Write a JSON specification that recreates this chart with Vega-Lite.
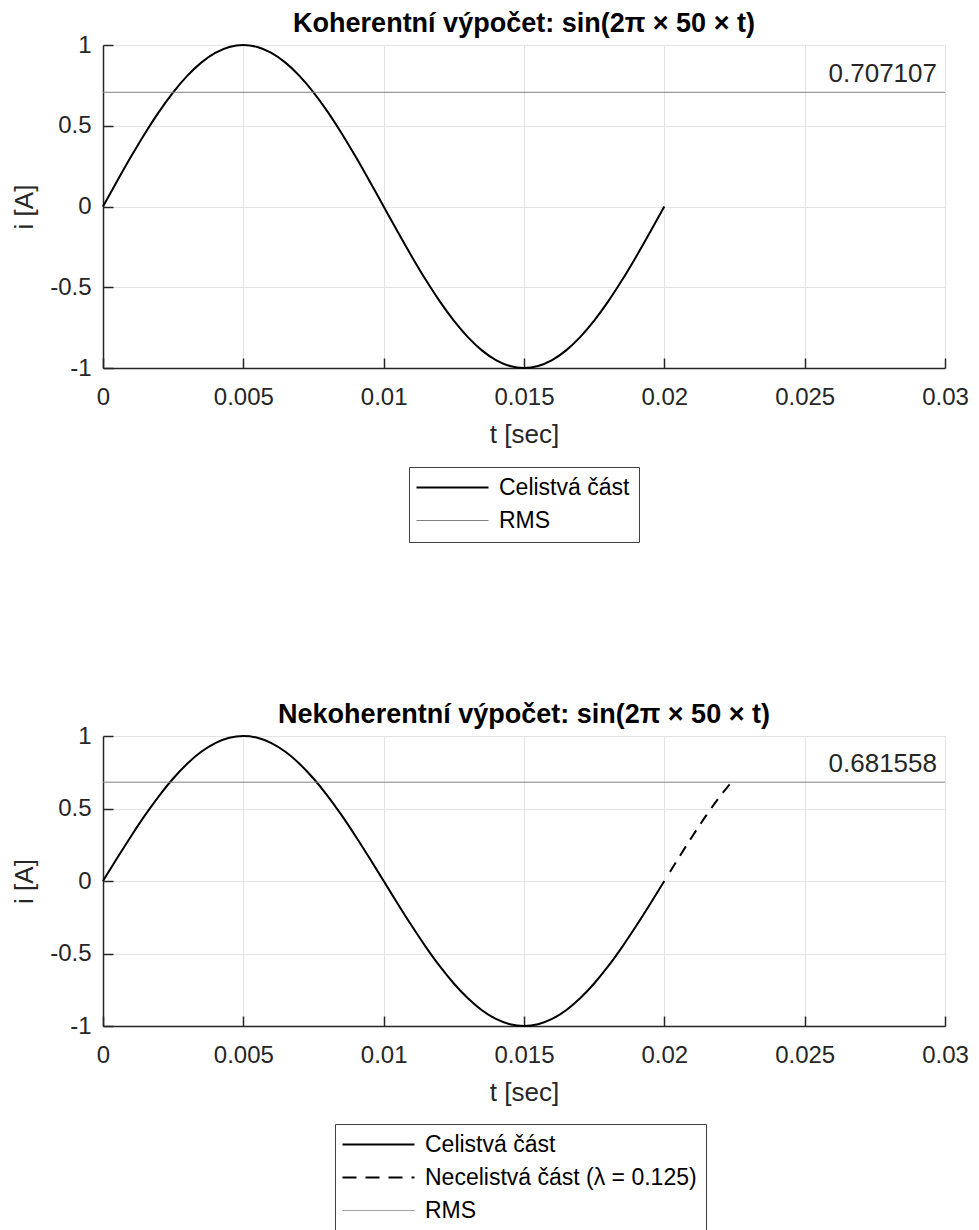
{
  "$schema": "https://vega.github.io/schema/vega-lite/v6.json",
  "background": "white",
  "padding": {"left": 11, "top": 10, "right": 20, "bottom": 2},
  "config": {
    "font": "Liberation Sans",
    "view": {"stroke": null},
    "axis": {
      "domainColor": "#262626", "domainWidth": 1.5,
      "tickColor": "#262626", "tickWidth": 1.5, "tickSize": -10,
      "gridColor": "#e3e3e3", "gridWidth": 1,
      "labelFont": "Liberation Sans", "labelFontSize": 24, "labelColor": "#262626",
      "titleFont": "Liberation Sans", "titleFontSize": 26, "titleFontWeight": "normal", "titleColor": "#262626",
      "labelFlush": false, "labelOverlap": false, "labelBound": false,
      "labelExpr": "replace(datum.label, '−', '-')"
    },
    "axisX": {"labelPadding": 27, "titlePadding": 12},
    "axisY": {"labelPadding": 22, "titlePadding": 12},
    "title": {"font": "Liberation Sans", "fontSize": 27, "fontWeight": "bold", "color": "#000000", "offset": -5, "baseline": "alphabetic", "anchor": "middle", "frame": "group"},
    "legend": {
      "orient": "none", "title": null, "direction": "vertical",
      "strokeColor": "#404040", "fillColor": "white", "padding": 9,
      "labelFont": "Liberation Sans", "labelFontSize": 23, "labelColor": "#000000", "labelLimit": 500,
      "symbolType": "M-3,0H3", "symbolSize": 576, "symbolOffset": 23, "labelOffset": 35, "rowPadding": 9,
      "symbolStrokeWidth": 2
    }
  },
  "datasets": {
    "wave": [
      {"t": 0, "i": 0, "s": "Celistvá část"},
      {"t": 0.0005, "i": 0.1564, "s": "Celistvá část"},
      {"t": 0.001, "i": 0.309, "s": "Celistvá část"},
      {"t": 0.0015, "i": 0.454, "s": "Celistvá část"},
      {"t": 0.002, "i": 0.5878, "s": "Celistvá část"},
      {"t": 0.0025, "i": 0.7071, "s": "Celistvá část"},
      {"t": 0.003, "i": 0.809, "s": "Celistvá část"},
      {"t": 0.0035, "i": 0.891, "s": "Celistvá část"},
      {"t": 0.004, "i": 0.9511, "s": "Celistvá část"},
      {"t": 0.0045, "i": 0.9877, "s": "Celistvá část"},
      {"t": 0.005, "i": 1, "s": "Celistvá část"},
      {"t": 0.0055, "i": 0.9877, "s": "Celistvá část"},
      {"t": 0.006, "i": 0.9511, "s": "Celistvá část"},
      {"t": 0.0065, "i": 0.891, "s": "Celistvá část"},
      {"t": 0.007, "i": 0.809, "s": "Celistvá část"},
      {"t": 0.0075, "i": 0.7071, "s": "Celistvá část"},
      {"t": 0.008, "i": 0.5878, "s": "Celistvá část"},
      {"t": 0.0085, "i": 0.454, "s": "Celistvá část"},
      {"t": 0.009, "i": 0.309, "s": "Celistvá část"},
      {"t": 0.0095, "i": 0.1564, "s": "Celistvá část"},
      {"t": 0.01, "i": 0, "s": "Celistvá část"},
      {"t": 0.0105, "i": -0.1564, "s": "Celistvá část"},
      {"t": 0.011, "i": -0.309, "s": "Celistvá část"},
      {"t": 0.0115, "i": -0.454, "s": "Celistvá část"},
      {"t": 0.012, "i": -0.5878, "s": "Celistvá část"},
      {"t": 0.0125, "i": -0.7071, "s": "Celistvá část"},
      {"t": 0.013, "i": -0.809, "s": "Celistvá část"},
      {"t": 0.0135, "i": -0.891, "s": "Celistvá část"},
      {"t": 0.014, "i": -0.9511, "s": "Celistvá část"},
      {"t": 0.0145, "i": -0.9877, "s": "Celistvá část"},
      {"t": 0.015, "i": -1, "s": "Celistvá část"},
      {"t": 0.0155, "i": -0.9877, "s": "Celistvá část"},
      {"t": 0.016, "i": -0.9511, "s": "Celistvá část"},
      {"t": 0.0165, "i": -0.891, "s": "Celistvá část"},
      {"t": 0.017, "i": -0.809, "s": "Celistvá část"},
      {"t": 0.0175, "i": -0.7071, "s": "Celistvá část"},
      {"t": 0.018, "i": -0.5878, "s": "Celistvá část"},
      {"t": 0.0185, "i": -0.454, "s": "Celistvá část"},
      {"t": 0.019, "i": -0.309, "s": "Celistvá část"},
      {"t": 0.0195, "i": -0.1564, "s": "Celistvá část"},
      {"t": 0.02, "i": 0, "s": "Celistvá část"},
      {"t": 0.0202, "i": 0.0628, "s": "Necelistvá část (λ = 0.125)"},
      {"t": 0.0205, "i": 0.1564, "s": "Necelistvá část (λ = 0.125)"},
      {"t": 0.021, "i": 0.309, "s": "Necelistvá část (λ = 0.125)"},
      {"t": 0.0215, "i": 0.454, "s": "Necelistvá část (λ = 0.125)"},
      {"t": 0.022, "i": 0.5878, "s": "Necelistvá část (λ = 0.125)"},
      {"t": 0.0225, "i": 0.7071, "s": "Necelistvá část (λ = 0.125)"}
    ],
    "rmsTop": [{"rms": 0.707107, "s": "RMS", "label": "0.707107"}],
    "rmsBottom": [{"rms": 0.681558, "s": "RMS", "label": "0.681558"}]
  },
  "spacing": 158,
  "resolve": {
    "scale": {"x": "independent", "y": "independent", "color": "independent"},
    "legend": {"color": "independent"}
  },
  "vconcat": [
    {
      "width": 842,
      "height": 323,
      "title": "Koherentní výpočet: sin(2π × 50 × t)",
      "layer": [
        {
          "data": {"name": "wave"},
          "transform": [{"filter": "datum.s === 'Celistvá část'"}],
          "mark": {"type": "line", "interpolate": "monotone", "strokeWidth": 2},
          "encoding": {
            "x": {"field": "t", "type": "quantitative", "title": "t [sec]",
              "scale": {"domain": [0, 0.03], "nice": false, "zero": false},
              "axis": {"values": [0, 0.005, 0.01, 0.015, 0.02, 0.025, 0.03], "format": "~g", "grid": true}},
            "y": {"field": "i", "type": "quantitative", "title": "i [A]",
              "scale": {"domain": [-1, 1], "nice": false},
              "axis": {"values": [-1, -0.5, 0, 0.5, 1], "format": "~g", "grid": true}},
            "color": {"field": "s", "type": "nominal",
              "scale": {"domain": ["Celistvá část", "RMS"], "range": ["#000000", "#808080"]},
              "legend": {"legendX": 306, "legendY": 422,
                "encode": {"symbols": {"update": {"strokeWidth": {"signal": "datum.value === 'RMS' ? 1 : 2"}}}}}}
          }
        },
        {
          "data": {"name": "rmsTop"},
          "mark": {"type": "rule", "strokeWidth": 1},
          "encoding": {
            "y": {"field": "rms", "type": "quantitative", "title": "i [A]"},
            "color": {"field": "s", "type": "nominal"}
          }
        },
        {
          "data": {"name": "rmsTop"},
          "mark": {"type": "text", "align": "right", "baseline": "alphabetic", "dx": -8, "dy": -10, "fontSize": 26, "color": "#262626", "font": "Liberation Sans"},
          "encoding": {
            "x": {"datum": 0.03, "type": "quantitative", "title": "t [sec]"},
            "y": {"field": "rms", "type": "quantitative", "title": "i [A]"},
            "text": {"field": "label"}
          }
        }
      ]
    },
    {
      "width": 842,
      "height": 290,
      "title": "Nekoherentní výpočet: sin(2π × 50 × t)",
      "layer": [
        {
          "data": {"name": "wave"},
          "transform": [{"filter": "datum.s === 'Celistvá část'"}],
          "mark": {"type": "line", "interpolate": "monotone", "strokeWidth": 2},
          "encoding": {
            "x": {"field": "t", "type": "quantitative", "title": "t [sec]",
              "scale": {"domain": [0, 0.03], "nice": false, "zero": false},
              "axis": {"values": [0, 0.005, 0.01, 0.015, 0.02, 0.025, 0.03], "format": "~g", "grid": true}},
            "y": {"field": "i", "type": "quantitative", "title": "i [A]",
              "scale": {"domain": [-1, 1], "nice": false},
              "axis": {"values": [-1, -0.5, 0, 0.5, 1], "format": "~g", "grid": true}},
            "color": {"field": "s", "type": "nominal",
              "scale": {"domain": ["Celistvá část", "Necelistvá část (λ = 0.125)", "RMS"], "range": ["#000000", "#000000", "#808080"]},
              "legend": {"legendX": 232, "legendY": 388,
                "encode": {"symbols": {"update": {
                  "strokeWidth": {"signal": "datum.value === 'RMS' ? 1 : 2"},
                  "strokeDash": {"signal": "indexof(datum.value, 'Necelistv') === 0 ? [14, 9] : [1, 0]"}}}}}}
          }
        },
        {
          "data": {"name": "wave"},
          "transform": [{"filter": "datum.s !== 'Celistvá část'"}],
          "mark": {"type": "line", "interpolate": "monotone", "strokeWidth": 2, "strokeDash": [11, 8]},
          "encoding": {
            "x": {"field": "t", "type": "quantitative", "title": "t [sec]"},
            "y": {"field": "i", "type": "quantitative", "title": "i [A]"},
            "color": {"field": "s", "type": "nominal"}
          }
        },
        {
          "data": {"name": "rmsBottom"},
          "mark": {"type": "rule", "strokeWidth": 1},
          "encoding": {
            "y": {"field": "rms", "type": "quantitative", "title": "i [A]"},
            "color": {"field": "s", "type": "nominal"}
          }
        },
        {
          "data": {"name": "rmsBottom"},
          "mark": {"type": "text", "align": "right", "baseline": "alphabetic", "dx": -8, "dy": -10, "fontSize": 26, "color": "#262626", "font": "Liberation Sans"},
          "encoding": {
            "x": {"datum": 0.03, "type": "quantitative", "title": "t [sec]"},
            "y": {"field": "rms", "type": "quantitative", "title": "i [A]"},
            "text": {"field": "label"}
          }
        }
      ]
    }
  ]
}
